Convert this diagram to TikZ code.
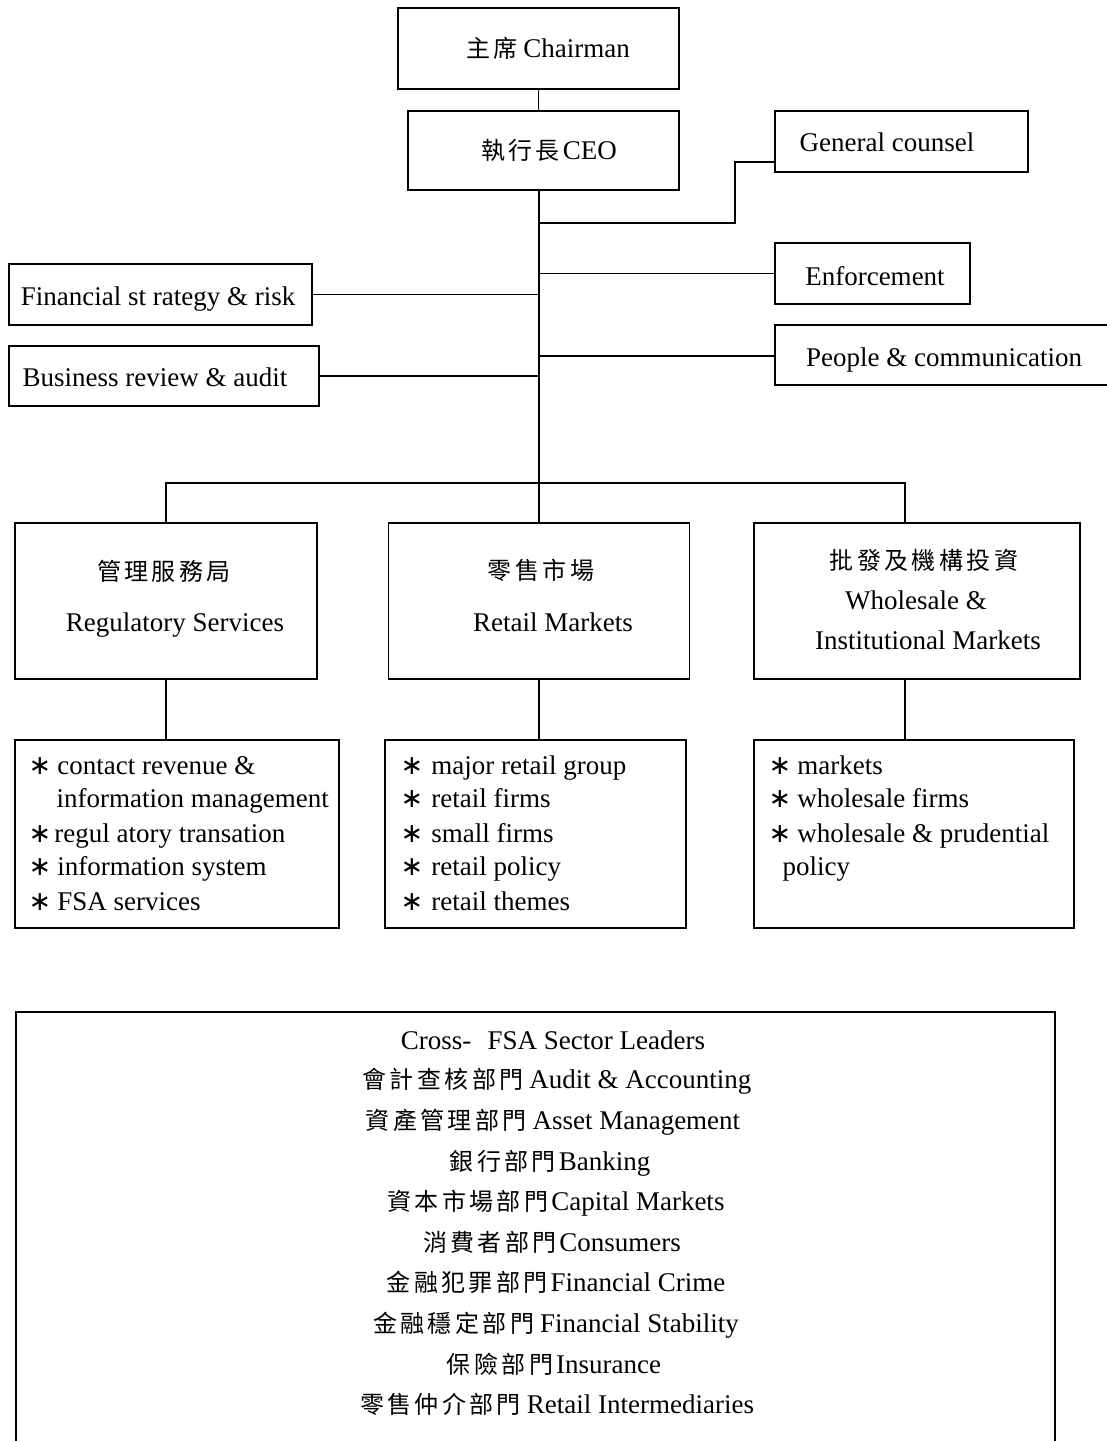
\documentclass[tikz,border=0pt]{standalone}
\usepackage{fontspec}
\setmainfont{Liberation Serif}
\newfontfamily\cjkf[LetterSpace=14]{Noto Sans CJK TC}
\newfontfamily\symf{DejaVu Sans}
\newcommand\zhtxt[1]{{\fontsize{24}{28}\selectfont\cjkf #1}}
\newcommand\bigast{{\fontsize{27}{27}\selectfont\symf ∗}}
\begin{document}
\begin{tikzpicture}[x=1pt,y=-1pt,line width=1.4pt,
  bx/.style={draw,rectangle,inner sep=0pt,minimum width=#1},
  txt/.style={anchor=base,inner sep=0pt,font=\fontsize{27}{32}\selectfont},
  itm/.style={anchor=base west,inner sep=0pt,font=\fontsize{27}{32}\selectfont}]
\useasboundingbox (0,0) rectangle (1107,1441);
\fill[white] (0,0) rectangle (1107,1441);
% top boxes
\node[bx=281pt,minimum height=81pt] (chair) at (538.5,48.5) {};
\node[bx=271pt,minimum height=79pt] (ceo) at (543.5,150.5) {};
\node[bx=253pt,minimum height=61pt] (gc) at (901.5,141.5) {};
\node[bx=195pt,minimum height=61pt] (enf) at (872.5,273.5) {};
\node[bx=303pt,minimum height=61pt] (fin) at (160.5,294.5) {};
\node[bx=310pt,minimum height=60pt] (bra) at (164,376) {};
\draw (1107,325) -- (775,325) -- (775,385) -- (1107,385);
\coordinate (pc) at (775,356);
% texts top
\node[txt] (tchair) at (548,57) {\zhtxt{主席}\hspace{6pt}Chairman};
\node[txt] (tceo) at (549,159) {\zhtxt{執行長}\hspace{3pt}CEO};
\node[txt] (tgc) at (887,151) {General counsel};
\node[txt] (tenf) at (875,285) {Enforcement};
\node[txt] (tpc) at (944,366) {People \& communication};
\node[txt] (tfin) at (158,305) {Financial st rategy \& risk};
\node[txt] (tbra) at (155,386) {Business review \& audit};
% division boxes
\node[bx=302pt,minimum height=156pt] (reg) at (166,601) {};
\node[bx=301pt,minimum height=156pt] (ret) at (539,601) {};
\node[bx=326pt,minimum height=156pt] (who) at (917,601) {};
\node[txt] (treg1) at (164,580) {\zhtxt{管理服務局}};
\node[txt] (treg2) at (175,631) {Regulatory Services};
\node[txt] (tret1) at (541,579) {\zhtxt{零售市場}};
\node[txt] (tret2) at (553,631) {Retail Markets};
\node[txt] (twho1) at (924,569) {\zhtxt{批發及機構投資}};
\node[txt] (twho2) at (916,609) {Wholesale \&};
\node[txt] (twho3) at (928,649) {Institutional Markets};
% lower boxes
\node[bx=324pt,minimum height=188pt] (regl) at (177,834) {};
\node[bx=301pt,minimum height=188pt] (retl) at (535.5,834) {};
\node[bx=320pt,minimum height=188pt] (whol) at (914,834) {};
\node[itm] (r1) at (28,774) {\bigast\hspace{6pt}contact revenue \&};
\node[itm] (r2) at (56,807) {information management};
\node[itm] (r3) at (28,842) {\bigast\hspace{3pt}regul atory transation};
\node[itm] (r4) at (28,875) {\bigast\hspace{6pt}information system};
\node[itm] (r5) at (28,910) {\bigast\hspace{6pt}FSA services};
\node[itm] (m1) at (400,774) {\bigast\hspace{8pt}major retail group};
\node[itm] (m2) at (400,807) {\bigast\hspace{8pt}retail firms};
\node[itm] (m3) at (400,842) {\bigast\hspace{8pt}small firms};
\node[itm] (m4) at (400,875) {\bigast\hspace{8pt}retail policy};
\node[itm] (m5) at (400,910) {\bigast\hspace{8pt}retail themes};
\node[itm] (w1) at (768,774) {\bigast\hspace{6pt}markets};
\node[itm] (w2) at (768,807) {\bigast\hspace{6pt}wholesale firms};
\node[itm] (w3) at (768,842) {\bigast\hspace{6pt}wholesale \& prudential};
\node[itm] (w4) at (782,875) {policy};
% bottom box
\draw (16,1441) -- (16,1012) -- (1055,1012) -- (1055,1441);
\node[txt] (b0) at (553,1049) {Cross-\hspace{0.6em}FSA Sector Leaders};
\node[txt] (b1) at (557,1088) {\zhtxt{會計查核部門}\hspace{6pt}Audit \& Accounting};
\node[txt] (b2) at (553,1129) {\zhtxt{資產管理部門}\hspace{6pt}Asset Management};
\node[txt] (b3) at (550,1170) {\zhtxt{銀行部門}\hspace{3pt}Banking};
\node[txt] (b4) at (556,1210) {\zhtxt{資本市場部門}\hspace{3pt}Capital Markets};
\node[txt] (b5) at (552,1251) {\zhtxt{消費者部門}\hspace{3pt}Consumers};
\node[txt] (b6) at (556,1291) {\zhtxt{金融犯罪部門}\hspace{3pt}Financial Crime};
\node[txt] (b7) at (556,1332) {\zhtxt{金融穩定部門}\hspace{6pt}Financial Stability};
\node[txt] (b8) at (554,1373) {\zhtxt{保險部門}\hspace{3pt}Insurance};
\node[txt] (b9) at (557,1413) {\zhtxt{零售仲介部門}\hspace{6pt}Retail Intermediaries};
% connectors
\coordinate (sp0) at (539,190);
\coordinate (j1) at (539,223);
\coordinate (g1) at (735,223);
\coordinate (g2) at (735,162);
\coordinate (bw) at (905,483);
\coordinate (wt) at (905,523);
\coordinate (wb) at (905,679);
\coordinate (wl) at (905,740);
\draw (chair.south) -- (chair.south |- ceo.north);
\draw (sp0) -- (ret.north);
\draw (j1) -- (g1) -- (g2) -- (g2 -| gc.west);
\draw (enf.west) -- (enf.west -| j1);
\draw (pc) -- (pc -| j1);
\draw (fin.east) -- (fin.east -| j1);
\draw (bra.east) -- (bra.east -| j1);
\draw (reg.north) |- (bw) -- (wt);
\draw (reg.south) -- (reg.south |- regl.north);
\draw (ret.south) -- (ret.south |- retl.north);
\draw (wb) -- (wl);
\end{tikzpicture}
\end{document}
